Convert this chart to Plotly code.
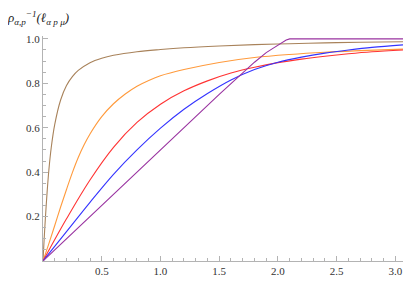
import plotly.graph_objects as go

# ---- data ----
x_brown = [0, 0.01, 0.02, 0.035, 0.05, 0.07, 0.1, 0.15, 0.2, 0.25, 0.3, 0.4, 0.5, 0.6,
           0.8, 1.0, 1.2, 1.5, 1.8, 2.1, 2.4, 2.7, 3.064]
y_brown = [0, 0.10, 0.19, 0.31, 0.41, 0.51, 0.615, 0.725, 0.79, 0.83, 0.858, 0.893, 0.913, 0.926,
           0.942, 0.952, 0.960, 0.968, 0.974, 0.978, 0.982, 0.985, 0.987]

x_orange = [0, 0.05, 0.1, 0.15, 0.2, 0.25, 0.3, 0.35, 0.4, 0.5, 0.6, 0.7, 0.8, 0.9, 1.0,
            1.2, 1.5, 1.8, 2.1, 2.4, 2.7, 3.064]
y_orange = [0, 0.078, 0.16, 0.243, 0.322, 0.398, 0.466, 0.523, 0.572, 0.650, 0.708, 0.752, 0.787, 0.813,
            0.834, 0.862, 0.894, 0.916, 0.930, 0.940, 0.947, 0.954]

x_red = [0, 0.2, 0.4, 0.6, 0.8, 1.0, 1.2, 1.4, 1.6, 1.8, 2.0, 2.2, 2.4, 2.6, 2.8, 3.064]
y_red = [0, 0.19, 0.365, 0.512, 0.624, 0.706, 0.766, 0.811, 0.846, 0.872, 0.893, 0.909, 0.922,
         0.933, 0.942, 0.950]

x_blue = [0, 0.2, 0.4, 0.6, 0.8, 1.0, 1.2, 1.4, 1.6, 1.8, 2.0, 2.2, 2.4, 2.6, 2.8, 3.064]
y_blue = [0, 0.132, 0.264, 0.39, 0.50, 0.598, 0.683, 0.754, 0.815, 0.862, 0.895, 0.918, 0.936,
          0.950, 0.962, 0.973]

x_purple = [0, 0.5, 1.0, 1.5, 1.8, 1.9, 1.95, 2.0, 2.04, 2.07, 2.1, 2.5, 3.064]
y_purple = [0, 0.25, 0.502, 0.75, 0.895, 0.938, 0.955, 0.972, 0.986, 0.995, 1.0, 1.0, 1.0]

x_ticks = [0.5, 1.0, 1.5, 2.0, 2.5, 3.0]
y_ticks = [0.2, 0.4, 0.6, 0.8, 1.0]

series = [
    (x_brown, y_brown, "#a8825a", "spline"),
    (x_orange, y_orange, "#ff9a3c", "spline"),
    (x_red, y_red, "#ff3333", "spline"),
    (x_blue, y_blue, "#3333ff", "spline"),
    (x_purple, y_purple, "#9933a0", "linear"),
]

fig = go.Figure()
for xs, ys, col, shape in series:
    line = dict(color=col, width=1.1, shape=shape)
    if shape == "spline":
        line["smoothing"] = 1.0
    fig.add_trace(go.Scatter(x=xs, y=ys, mode="lines", line=line,
                             showlegend=False, hoverinfo="skip"))

axis_col = "#b3b3b3"
serif = "Liberation Serif, DejaVu Serif, serif"
tick_font = dict(family=serif, size=11, color="#333333")

fig.update_layout(
    width=415, height=281,
    margin=dict(l=35, r=20, t=28, b=15),
    paper_bgcolor="white", plot_bgcolor="white",
    xaxis=dict(range=[0, 3.064], showgrid=False, zeroline=False,
               showline=True, linecolor=axis_col, linewidth=1,
               ticks="inside", ticklen=5, tickcolor=axis_col, tickwidth=1,
               tickvals=x_ticks, ticktext=[f"{v:.1f}" for v in x_ticks],
               tickfont=tick_font,
               minor=dict(ticks="inside", dtick=0.1, tick0=0, ticklen=3,
                          tickcolor=axis_col, showgrid=False)),
    yaxis=dict(range=[0, 1.013], showgrid=False, zeroline=False,
               showline=True, linecolor=axis_col, linewidth=1,
               ticks="inside", ticklen=5, tickcolor=axis_col, tickwidth=1,
               tickvals=y_ticks, ticktext=[f"{v:.1f}" for v in y_ticks],
               tickfont=tick_font,
               minor=dict(ticks="inside", dtick=0.05, tick0=0, ticklen=3,
                          tickcolor=axis_col, showgrid=False)),
)

fig.add_annotation(xref="paper", yref="paper", x=-38/360, y=1 + 19/238,
                   xanchor="left", yanchor="middle", showarrow=False,
                   text="<i>ρ<sub>α,p</sub><sup>−1</sup>(ℓ<sub>α p μ</sub>)</i>",
                   font=dict(family=serif, size=13, color="#222222"))
fig.add_annotation(xref="paper", yref="paper", x=1 + 2/360, y=0.01,
                   xanchor="left", yanchor="middle", showarrow=False,
                   text="<i>ℓ<sub>μ</sub></i>",
                   font=dict(family=serif, size=12, color="#222222"))

fig.write_html("out.html")
